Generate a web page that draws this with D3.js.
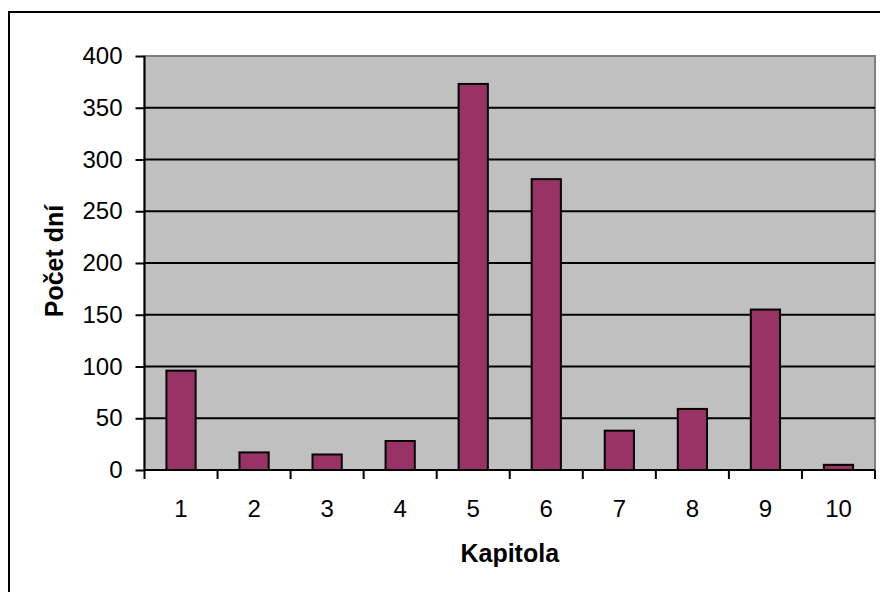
<!DOCTYPE html>
<html>
<head>
<meta charset="utf-8">
<script src="https://cdn.jsdelivr.net/npm/d3@7"></script>
<style>
  body { margin: 0; background: #fff; }
  svg { display: block; font-family: "Liberation Sans", Arial, sans-serif; }
</style>
</head>
<body>
<svg id="chart" width="880" height="592"></svg>
<script>
const categories = ["1", "2", "3", "4", "5", "6", "7", "8", "9", "10"];
const days = [96, 17, 15, 28, 373, 281, 38, 59, 155, 5];
const yTicks = [0, 50, 100, 150, 200, 250, 300, 350, 400];

const svg = d3.select("#chart");
const plotLeft = 144.5, plotRight = 875, plotTop = 56, plotBottom = 470;

// outer chart border (cropped at right and bottom)
svg.append("rect")
    .attr("x", 9).attr("y", 12)
    .attr("width", 900).attr("height", 620)
    .attr("fill", "none")
    .attr("stroke", "#000")
    .attr("stroke-width", 2);

const x = d3.scaleBand()
    .domain(categories)
    .range([plotLeft, plotRight])
    .paddingInner(0.6)
    .paddingOuter(0.3);

const y = d3.scaleLinear()
    .domain([0, 400])
    .range([plotBottom, plotTop]);

// plot area
svg.append("rect")
    .attr("x", plotLeft).attr("y", plotTop)
    .attr("width", plotRight - plotLeft).attr("height", plotBottom - plotTop)
    .attr("fill", "#c0c0c0")
    .attr("stroke", "#808080")
    .attr("stroke-width", 2);

// gridlines
svg.append("g")
    .selectAll("line")
    .data(yTicks.filter(d => d > 0 && d < 400))
    .join("line")
    .attr("x1", plotLeft).attr("x2", plotRight)
    .attr("y1", d => y(d)).attr("y2", d => y(d))
    .attr("stroke", "#000")
    .attr("stroke-width", 2);

// bars
svg.append("g")
    .selectAll("rect")
    .data(days)
    .join("rect")
    .attr("x", (d, i) => x(categories[i]))
    .attr("y", d => y(d))
    .attr("width", x.bandwidth())
    .attr("height", d => y(0) - y(d))
    .attr("fill", "#993366")
    .attr("stroke", "#000")
    .attr("stroke-width", 2);

// y axis
const yAxis = svg.append("g")
    .attr("transform", `translate(${plotLeft},0)`)
    .call(d3.axisLeft(y).tickValues(yTicks).tickSize(9).tickPadding(13));
yAxis.select(".domain").attr("stroke-width", 2).attr("d", `M0,${plotTop}V${plotBottom}`);
yAxis.selectAll(".tick line").attr("stroke-width", 2);
yAxis.selectAll("text").attr("font-size", 24).attr("fill", "#000");

// x axis
const xAxis = svg.append("g")
    .attr("transform", `translate(0,${plotBottom})`)
    .call(d3.axisBottom(x).tickSize(0).tickPadding(30));
xAxis.select(".domain").attr("stroke-width", 2).attr("d", `M${plotLeft},0H${plotRight}`);
xAxis.selectAll("text").attr("font-size", 24).attr("fill", "#000");

const step = x.step();
svg.append("g")
    .selectAll("line")
    .data(d3.range(categories.length + 1))
    .join("line")
    .attr("x1", i => plotLeft + i * step).attr("x2", i => plotLeft + i * step)
    .attr("y1", plotBottom).attr("y2", plotBottom + 9)
    .attr("stroke", "#000")
    .attr("stroke-width", 2);

// axis titles
svg.append("text")
    .attr("x", (plotLeft + plotRight) / 2)
    .attr("y", 562)
    .attr("text-anchor", "middle")
    .attr("font-size", 25)
    .attr("font-weight", "bold")
    .text("Kapitola");

svg.append("text")
    .attr("transform", `translate(63,261) rotate(-90)`)
    .attr("text-anchor", "middle")
    .attr("font-size", 25)
    .attr("font-weight", "bold")
    .text("Počet dní");
</script>
</body>
</html>
